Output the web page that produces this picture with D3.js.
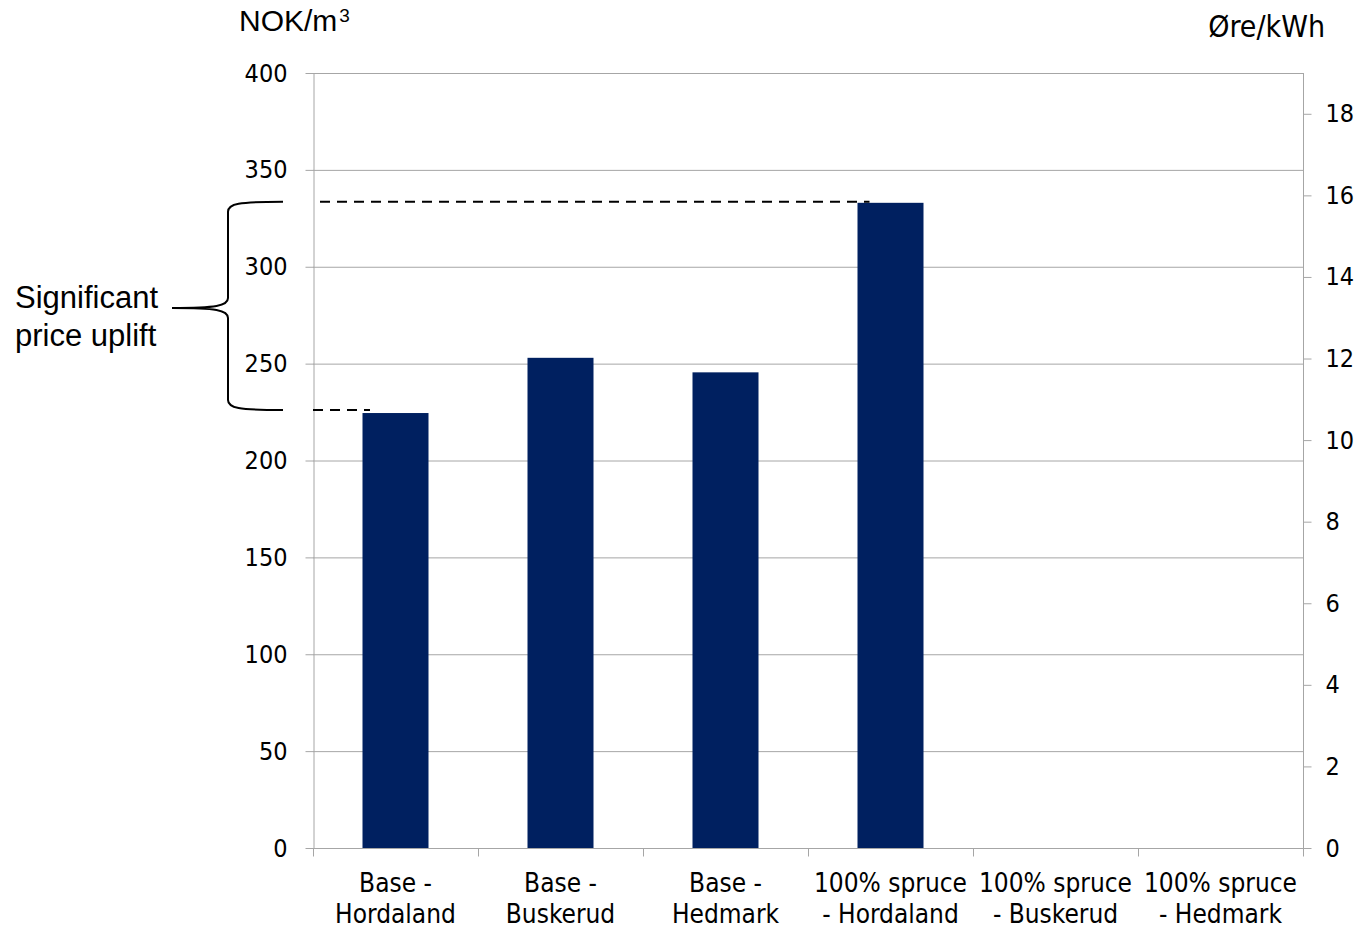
<!DOCTYPE html>
<html>
<head>
<meta charset="utf-8">
<script src="https://cdn.jsdelivr.net/npm/d3@7"></script>
<style>
  html, body { margin: 0; padding: 0; background: #fff; }
  svg { display: block; }
</style>
</head>
<body>
<svg id="chart" width="1361" height="927"></svg>
<script>
// Wood price per scenario (NOK per cubic metre)
const categories = [
  ["Base -", "Hordaland"],
  ["Base -", "Buskerud"],
  ["Base -", "Hedmark"],
  ["100% spruce", "- Hordaland"],
  ["100% spruce", "- Buskerud"],
  ["100% spruce", "- Hedmark"]
];
const priceNOK = [224.5, 253, 245.5, 333, null, null];
const leftTicks = [0, 50, 100, 150, 200, 250, 300, 350, 400];
const rightTicks = [0, 2, 4, 6, 8, 10, 12, 14, 16, 18];

const svg = d3.select("#chart");
const m = { left: 313, right: 1303, top: 73, bottom: 848 };
const tickFont = "'DejaVu Sans Condensed', 'DejaVu Sans', sans-serif";
const arial = "'Liberation Sans', Arial, sans-serif";

const x = d3.scaleBand().domain(d3.range(categories.length))
  .range([m.left, m.right]).paddingInner(0).paddingOuter(0);
const y = d3.scaleLinear().domain([0, 400]).range([m.bottom, m.top]);
const y2 = d3.scaleLinear().domain([0, 19]).range([m.bottom, m.top]);

// horizontal gridlines
svg.append("g").selectAll("line").data(leftTicks.filter(d => d > 0)).join("line")
  .attr("x1", m.left).attr("x2", m.right)
  .attr("y1", d => y(d) + 0.5).attr("y2", d => y(d) + 0.5)
  .attr("stroke", "#a6a6a6").attr("stroke-width", 1);

// right frame edge
svg.append("line").attr("x1", m.right + 0.5).attr("x2", m.right + 0.5)
  .attr("y1", m.top).attr("y2", m.bottom).attr("stroke", "#a6a6a6");

// bars
const barW = x.bandwidth() * 0.4;
svg.append("g").selectAll("rect").data(priceNOK.map((v, i) => ({ v, i })).filter(d => d.v != null))
  .join("rect")
  .attr("x", d => x(d.i) + (x.bandwidth() - barW) / 2)
  .attr("width", barW)
  .attr("y", d => y(d.v))
  .attr("height", d => y(0) - y(d.v))
  .attr("fill", "#002060");

// left axis
const gL = svg.append("g").attr("transform", `translate(${m.left + 0.5},0)`)
  .call(d3.axisLeft(y).tickValues(leftTicks).tickSize(8).tickPadding(18).tickSizeOuter(0));
gL.select(".domain").attr("stroke", "#a6a6a6");
gL.selectAll(".tick line").attr("stroke", "#a6a6a6");
gL.selectAll("text").attr("font-family", tickFont).attr("font-size", 25).attr("fill", "#000");

// right axis
const gR = svg.append("g").attr("transform", `translate(${m.right + 0.5},0)`)
  .call(d3.axisRight(y2).tickValues(rightTicks).tickSize(8).tickPadding(14).tickSizeOuter(0));
gR.select(".domain").remove();
gR.selectAll(".tick line").attr("stroke", "#a6a6a6");
gR.selectAll("text").attr("font-family", tickFont).attr("font-size", 25).attr("fill", "#000");

// bottom axis with ticks between categories
const gB = svg.append("g").attr("transform", `translate(0,${m.bottom + 0.5})`);
gB.append("line").attr("x1", m.left).attr("x2", m.right + 8)
  .attr("stroke", "#a6a6a6");
const bounds = d3.range(categories.length + 1).map(i => m.left + i * x.bandwidth());
gB.selectAll("line.tk").data(bounds).join("line").attr("class", "tk")
  .attr("x1", d => Math.round(d) + 0.5).attr("x2", d => Math.round(d) + 0.5)
  .attr("y1", 0).attr("y2", 8).attr("stroke", "#a6a6a6");
const lbl = gB.selectAll("text").data(categories).join("text")
  .attr("x", (d, i) => x(i) + x.bandwidth() / 2)
  .attr("text-anchor", "middle")
  .attr("font-family", tickFont).attr("font-size", 26).attr("fill", "#000");
lbl.append("tspan").attr("x", (d, i) => x(i) + x.bandwidth() / 2).attr("y", 43).text(d => d[0]);
lbl.append("tspan").attr("x", (d, i) => x(i) + x.bandwidth() / 2).attr("y", 74).text(d => d[1]);

// axis unit titles
svg.append("text").attr("x", 239).attr("y", 31)
  .attr("font-family", arial).attr("font-size", 30).attr("fill", "#000")
  .text("NOK/m").append("tspan").attr("font-size", 19).attr("dy", -9).attr("dx", 2).text("3");
svg.append("text").attr("x", 1325).attr("y", 37).attr("text-anchor", "end")
  .attr("font-family", tickFont).attr("font-size", 30).attr("fill", "#000")
  .text("Øre/kWh");

// price uplift markers
const topV = priceNOK[3], lowV = priceNOK[0];
svg.append("line").attr("x1", 320).attr("x2", x(3) + (x.bandwidth() - barW) / 2 + 12)
  .attr("y1", y(topV) - 1).attr("y2", y(topV) - 1)
  .attr("stroke", "#000").attr("stroke-width", 2).attr("stroke-dasharray", "10,7");
svg.append("line").attr("x1", m.left).attr("x2", 370)
  .attr("y1", y(lowV) - 3).attr("y2", y(lowV) - 3)
  .attr("stroke", "#000").attr("stroke-width", 2).attr("stroke-dasharray", "10,7");

// curly brace
const yt = y(topV) - 1, yb = y(lowV) - 3, ym = (yt + yb) / 2 + 2;
const bx = 228, ex = 283, px = 172;
const brace = d3.path();
brace.moveTo(ex, yt);
brace.bezierCurveTo(bx + 10, yt, bx, yt + 2, bx, yt + 10);
brace.lineTo(bx, ym - 10);
brace.bezierCurveTo(bx, ym - 2, bx - 12, ym, px, ym);
brace.bezierCurveTo(bx - 12, ym, bx, ym + 2, bx, ym + 10);
brace.lineTo(bx, yb - 10);
brace.bezierCurveTo(bx, yb - 2, bx + 10, yb, ex, yb);
svg.append("path").attr("d", brace.toString()).attr("fill", "none")
  .attr("stroke", "#000").attr("stroke-width", 2);

svg.append("text").attr("x", 15).attr("font-family", arial).attr("font-size", 31).attr("fill", "#000")
  .selectAll("tspan").data(["Significant", "price uplift"]).join("tspan")
  .attr("x", 15).attr("y", (d, i) => 308 + i * 38).text(d => d);
</script>
</body>
</html>
